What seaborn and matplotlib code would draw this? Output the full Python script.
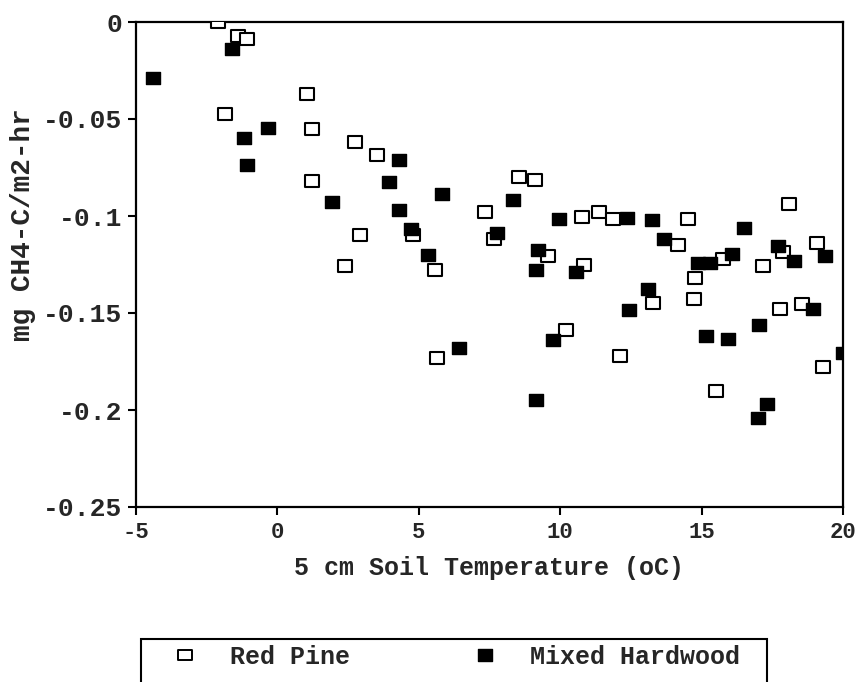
import matplotlib
matplotlib.use('Agg')
import matplotlib.pyplot as plt
from matplotlib.lines import Line2D
from matplotlib.patches import Rectangle
from matplotlib.path import Path
import pandas as pd
import seaborn as sns

# Red Pine (open squares)
pine_temp = [-2.10, -1.39, -1.08, -1.85, 1.05, 1.22, 1.22, 2.74, 3.52, 2.92,
             2.39, 4.79, 5.57, 5.64, 7.34, 7.66, 8.54, 9.11, 9.57, 10.20,
             10.77, 10.84, 11.37, 11.87, 12.11, 13.28, 14.17, 14.52, 14.77, 14.73,
             15.51, 15.76, 17.17, 17.77, 17.88, 18.09, 18.55, 19.08, 19.29]
pine_flux = [0.000, -0.0072, -0.0088, -0.0474, -0.037, -0.055, -0.082, -0.062, -0.0686, -0.110,
             -0.126, -0.110, -0.128, -0.173, -0.098, -0.112, -0.080, -0.0814, -0.1206, -0.159,
             -0.1005, -0.125, -0.098, -0.1015, -0.172, -0.145, -0.115, -0.1015, -0.132, -0.143,
             -0.190, -0.122, -0.126, -0.148, -0.1185, -0.094, -0.1453, -0.114, -0.178]

# Mixed Hardwood (filled squares)
hard_temp = [-4.40, -1.61, -1.18, -0.35, -1.08, 1.93, 3.95, 4.30, 4.30, 4.72,
             5.33, 5.82, 6.42, 7.77, 8.33, 9.21, 9.14, 9.14, 9.75, 9.96,
             10.56, 12.36, 12.43, 13.10, 13.25, 13.67, 14.87, 15.30, 15.16, 15.93,
             16.08, 16.50, 16.99, 17.03, 17.31, 17.70, 18.27, 18.94, 19.36, 20.0]
hard_flux = [-0.0289, -0.0139, -0.0598, -0.0546, -0.0737, -0.093, -0.0825, -0.071, -0.097, -0.1067,
             -0.120, -0.0887, -0.168, -0.1088, -0.092, -0.1175, -0.128, -0.195, -0.164, -0.1015,
             -0.129, -0.101, -0.1485, -0.1376, -0.102, -0.112, -0.124, -0.124, -0.162, -0.1634,
             -0.1196, -0.106, -0.204, -0.156, -0.197, -0.1155, -0.123, -0.148, -0.1206, -0.1706]

x_ticks = [-5, 0, 5, 10, 15, 20]
x_labels = ['-5', '0', '5', '10', '15', '20']
y_ticks = [0, -0.05, -0.1, -0.15, -0.2, -0.25]
y_labels = ['0', '-0.05', '-0.1', '-0.15', '-0.2', '-0.25']

df_pine = pd.DataFrame({'temp': pine_temp, 'flux': pine_flux})
df_hard = pd.DataFrame({'temp': hard_temp, 'flux': hard_flux})

sns.set_style('white')
plt.rcParams['font.family'] = ['Liberation Mono', 'DejaVu Sans']
plt.rcParams['font.weight'] = 'bold'
plt.rcParams['xtick.bottom'] = True
plt.rcParams['ytick.left'] = True
plt.rcParams['xtick.major.size'] = 6
plt.rcParams['ytick.major.size'] = 6
plt.rcParams['xtick.major.width'] = 1.5
plt.rcParams['ytick.major.width'] = 1.5

# slightly wide rectangle marker like the scanned original
rect = Path([(-1.25, -1), (1.25, -1), (1.25, 1), (-1.25, 1), (-1.25, -1)],
            [Path.MOVETO, Path.LINETO, Path.LINETO, Path.LINETO, Path.CLOSEPOLY])

W, H = 856, 682
fig = plt.figure(figsize=(W / 100, H / 100), dpi=100)
ax = fig.add_axes([136 / W, 1 - 507 / H, 707 / W, 485 / H])

sns.scatterplot(data=df_pine, x='temp', y='flux', ax=ax, marker=rect, s=115,
                facecolor='white', edgecolor='black', linewidth=1.5, zorder=3)
sns.scatterplot(data=df_hard, x='temp', y='flux', ax=ax, marker=rect, s=100,
                color='black', edgecolor='black', linewidth=1.0, zorder=4)

ax.set_xlim(-5, 20)
ax.set_ylim(-0.25, 0)
ax.set_xticks(x_ticks)
ax.set_xticklabels(x_labels, fontsize=16, fontweight='bold')
ax.set_yticks(y_ticks)
ax.set_yticklabels(y_labels, fontsize=19, fontweight='bold')
ax.tick_params(axis='both', bottom=True, left=True, direction='out',
               length=6, width=1.5, color='black')
ax.tick_params(axis='x', pad=5)
ax.tick_params(axis='y', pad=4)
ax.set_xlabel('5 cm Soil Temperature (oC)', fontsize=18, fontweight='bold', labelpad=9)
ax.set_ylabel('mg CH4-C/m2-hr', fontsize=20, fontweight='bold')
ax.yaxis.set_label_coords((36 - 136) / 707, (507 - 225) / 485)
for sp in ax.spines.values():
    sp.set_color('black')
    sp.set_linewidth(1.6)

# legend below the plot; its box runs off the bottom edge like the original
handles = [
    Line2D([], [], marker=rect, linestyle='none', markersize=9.5,
           markerfacecolor='white', markeredgecolor='black', markeredgewidth=1.4),
    Line2D([], [], marker=rect, linestyle='none', markersize=10.5,
           markerfacecolor='black', markeredgecolor='black'),
]
leg = fig.legend(handles, ['Red Pine', 'Mixed Hardwood'], ncol=2, loc='upper left',
                 bbox_to_anchor=(172.5 / W, 1 - 645 / H), bbox_transform=fig.transFigure,
                 prop={'family': 'Liberation Mono', 'weight': 'bold', 'size': 18},
                 frameon=False, borderpad=0, borderaxespad=0,
                 handlelength=1.0, handletextpad=1.3, columnspacing=4.9)
fig.add_artist(Rectangle((141 / W, -0.05), (767 - 141) / W, 0.05 + (H - 639) / H,
                         transform=fig.transFigure, fill=False,
                         edgecolor='black', linewidth=1.5))

fig.savefig('out.png', dpi=100)
